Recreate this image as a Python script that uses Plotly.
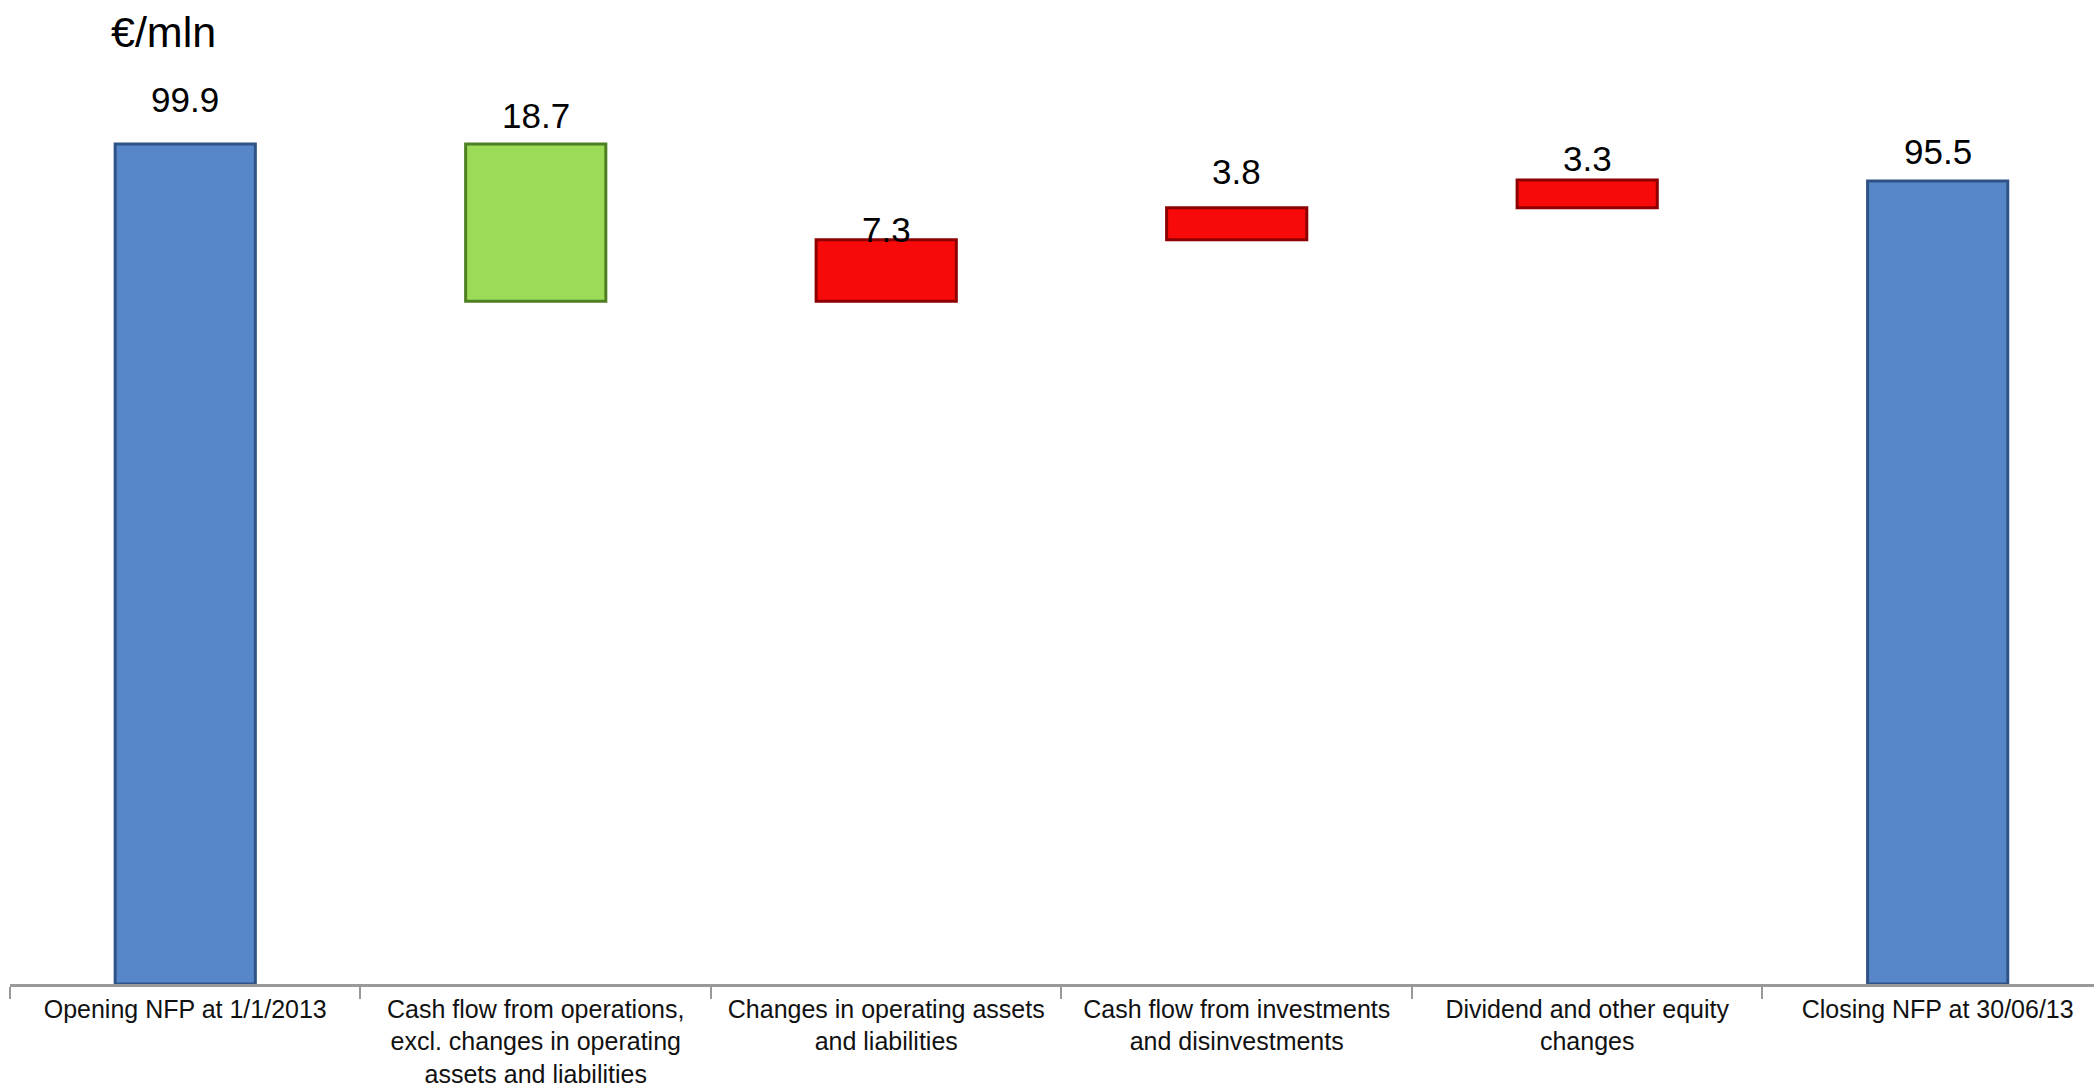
import plotly.graph_objects as go

# ---- data ----
categories = [
    "Opening NFP at 1/1/2013",
    "Cash flow from operations,<br>excl. changes in operating<br>assets and liabilities",
    "Changes in operating assets<br>and liabilities",
    "Cash flow from investments<br>and disinvestments",
    "Dividend and other equity<br>changes",
    "Closing NFP at 30/06/13",
]
opening_value = 99.9
change_values = [-18.7, 7.3, 3.8, 3.3]
closing_value = 95.5
unit_label = "€/mln"

# ---- styles ----
BLUE, BLUE_D = "#5787C9", "#2F5386"
GREEN, GREEN_D = "#9BDB58", "#4E7F22"
RED, RED_D = "#F80A0A", "#8E0000"
label_offsets = [44, 28, 10, 36, 22, 29]   # px above bar top (style only)

# ---- build bars from data ----
bases, heights, fills, edges, tops, texts = [], [], [], [], [], []
bases.append(0); heights.append(opening_value); fills.append(BLUE); edges.append(BLUE_D)
tops.append(opening_value); texts.append(f"{opening_value:.1f}")
running = opening_value
for ch in change_values:
    lo = min(running, running + ch)
    hi = max(running, running + ch)
    bases.append(lo); heights.append(hi - lo)
    fills.append(GREEN if ch < 0 else RED)
    edges.append(GREEN_D if ch < 0 else RED_D)
    tops.append(hi); texts.append(f"{abs(ch):.1f}")
    running += ch
bases.append(0); heights.append(closing_value); fills.append(BLUE); edges.append(BLUE_D)
tops.append(closing_value); texts.append(f"{closing_value:.1f}")

fig = go.Figure()
fig.add_trace(go.Bar(
    x=categories, y=heights, base=bases, width=0.4,
    marker=dict(color=fills, line=dict(color=edges, width=3)),
    hoverinfo="skip", showlegend=False,
))

for cat, top, txt, off in zip(categories, tops, texts, label_offsets):
    fig.add_annotation(x=cat, y=top, text=txt, showarrow=False,
                       yanchor="middle", yshift=off,
                       font=dict(family="Liberation Sans, Arial", size=35, color="#000"))

fig.add_annotation(xref="paper", yref="paper", x=0.0475, y=1.0, xanchor="left",
                   yanchor="middle", yshift=27, text=unit_label, showarrow=False,
                   font=dict(family="Liberation Sans, Arial", size=43, color="#000"))

fig.update_layout(
    width=2094, height=1091,
    margin=dict(l=10, r=0, t=59, b=107),
    paper_bgcolor="white", plot_bgcolor="white",
    bargap=0.6,
    font=dict(family="Liberation Sans, Arial", color="#111"),
    xaxis=dict(
        type="category", range=[-0.5, 5.446], automargin=False, tickangle=0,
        tickson="boundaries", ticks="outside", ticklen=12, tickwidth=1.5,
        tickcolor="#999", showline=True, linecolor="#999", linewidth=2.5,
        showgrid=False, tickfont=dict(size=25, color="#111"),
        ticklabelstandoff=1,
    ),
    yaxis=dict(range=[0, 110], visible=False, showgrid=False, zeroline=False,
               automargin=False),
)

fig.write_html("out.html")
